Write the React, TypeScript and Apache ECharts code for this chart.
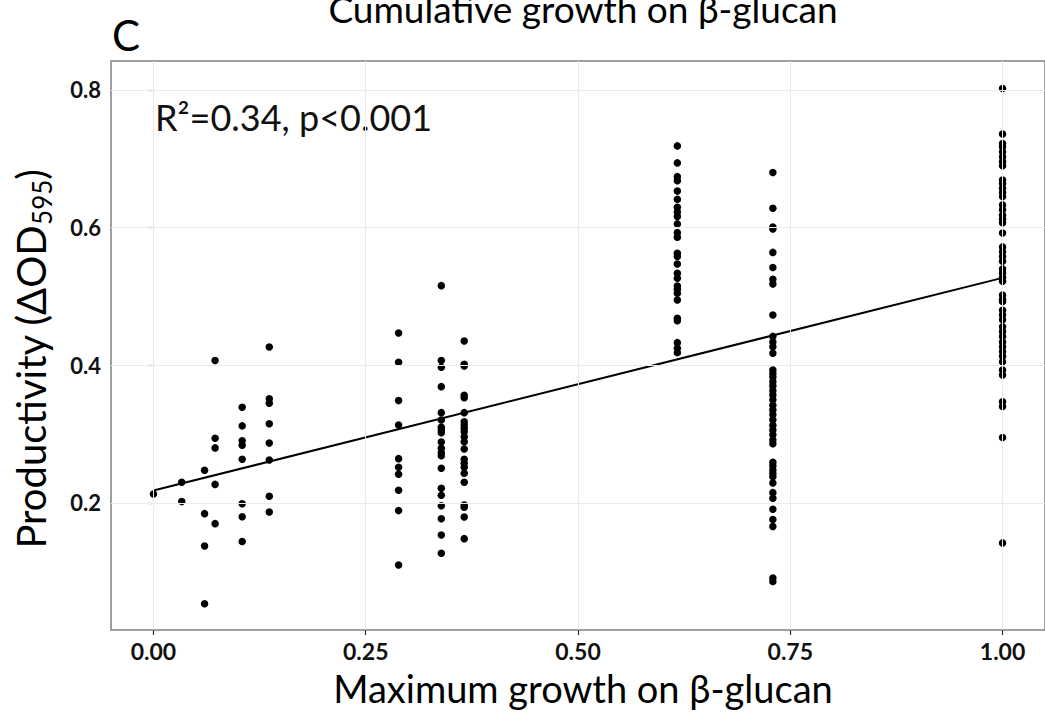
import React, { useEffect, useRef } from "react";
import * as echarts from "echarts";

// x positions of the strain groups (maximum growth on β-glucan)
const xLevels = [0, 0.0333, 0.0602, 0.0726, 0.1045, 0.1364, 0.2887, 0.339, 0.366, 0.617, 0.7295, 1.0];

// productivity values per group
const g0 = [0.213];
const g1 = [0.23, 0.202];
const g2 = [0.2475, 0.1845, 0.1375, 0.0537];
const g3 = [0.407, 0.294, 0.28, 0.227, 0.17];
const g4 = [0.339, 0.312, 0.2905, 0.284, 0.2635, 0.199, 0.18, 0.144];
const g5 = [0.4266, 0.3515, 0.345, 0.315, 0.287, 0.2625, 0.2097, 0.187];
const g6 = [0.447, 0.4044, 0.3487, 0.3133, 0.2644, 0.2519, 0.2417, 0.2185, 0.1889, 0.1099];
const g7 = [0.5157, 0.4068, 0.3971, 0.369, 0.3312, 0.3206, 0.31, 0.306, 0.3021, 0.2886, 0.2794, 0.2731, 0.2687, 0.2504, 0.2214, 0.2112, 0.1961, 0.1772, 0.1535, 0.1269];
const g8 = [0.4353, 0.4015, 0.399, 0.3564, 0.353, 0.3312, 0.3181, 0.3133, 0.3085, 0.3036, 0.2963, 0.2891, 0.2785, 0.2635, 0.2577, 0.2519, 0.2431, 0.23, 0.197, 0.1937, 0.1797, 0.1482];
const g9 = [0.7187, 0.694, 0.674, 0.668, 0.653, 0.641, 0.6296, 0.6228, 0.616, 0.6054, 0.5927, 0.586, 0.5628, 0.5579, 0.5472, 0.5337, 0.5264, 0.5153, 0.5104, 0.5046, 0.4949, 0.4683, 0.4648, 0.4329, 0.4247, 0.4184];
const g10 = [0.68, 0.628, 0.601, 0.598, 0.564, 0.542, 0.525, 0.518, 0.473, 0.442, 0.434, 0.427, 0.4175, 0.393, 0.388, 0.383, 0.376, 0.37, 0.363, 0.357, 0.35, 0.342, 0.335, 0.328, 0.321, 0.313, 0.306, 0.299, 0.2915, 0.286, 0.259, 0.254, 0.248, 0.243, 0.238, 0.229, 0.215, 0.207, 0.191, 0.176, 0.166, 0.091, 0.086];
const g11 = [0.802, 0.736, 0.722, 0.717, 0.71, 0.703, 0.696, 0.69, 0.669, 0.664, 0.657, 0.651, 0.645, 0.633, 0.626, 0.618, 0.612, 0.607, 0.592, 0.572, 0.565, 0.558, 0.551, 0.54, 0.534, 0.528, 0.522, 0.502, 0.496, 0.4925, 0.48, 0.473, 0.466, 0.456, 0.449, 0.442, 0.434, 0.427, 0.42, 0.413, 0.405, 0.393, 0.386, 0.347, 0.34, 0.295, 0.142];

const groups = [g0, g1, g2, g3, g4, g5, g6, g7, g8, g9, g10, g11];

// fitted regression line end points
const fitX = [0, 1];
const fitY = [0.218, 0.527];

const xTicks = [0, 0.25, 0.5, 0.75, 1];
const yTicks = [0.2, 0.4, 0.6, 0.8];

const FONT = "Lato, 'Open Sans', sans-serif";

export default function App() {
  const ref = useRef<HTMLDivElement>(null);

  useEffect(() => {
    if (!ref.current) return;
    const chart = echarts.init(ref.current, undefined, { renderer: "svg" });

    const points: number[][] = [];
    groups.forEach((g, i) => g.forEach((v) => points.push([xLevels[i], v])));
    const fit = fitX.map((x, i) => [x, fitY[i]]);

    const option: any = {
      animation: false,
      backgroundColor: "#ffffff",
      grid: {
        left: 111,
        top: 61,
        right: -10,
        bottom: 89,
        show: true,
        borderColor: "#808080",
        borderWidth: 1.5,
        backgroundColor: "transparent",
      },
      xAxis: {
        type: "value",
        min: -0.05,
        max: 1.05,
        axisLine: { show: false },
        splitLine: { show: false },
        axisTick: {
          show: true,
          customValues: xTicks,
          length: 5,
          lineStyle: { color: "#333", width: 1.2 },
        },
        axisLabel: {
          customValues: xTicks,
          formatter: (v: number) => v.toFixed(2),
          fontFamily: FONT,
          fontWeight: "bold",
          fontSize: 23,
          color: "#111",
          margin: 9,
        },
      },
      yAxis: {
        type: "value",
        min: 0.0155,
        max: 0.842,
        axisLine: { show: false },
        splitLine: { show: false },
        axisTick: {
          show: true,
          customValues: yTicks,
          length: 5,
          lineStyle: { color: "#333", width: 1.2 },
        },
        axisLabel: {
          customValues: yTicks,
          formatter: (v: number) => v.toFixed(1),
          fontFamily: FONT,
          fontWeight: "bold",
          fontSize: 22,
          color: "#111",
          margin: 10,
        },
      },
      series: [
        {
          type: "scatter",
          data: [],
          silent: true,
          z: 1,
          markLine: {
            silent: true,
            symbol: ["none", "none"],
            label: { show: false },
            lineStyle: { color: "#ebebeb", width: 1, type: "solid" },
            data: [
              ...yTicks.map((v) => ({ yAxis: v })),
              ...xTicks.map((v) => ({ xAxis: v })),
            ],
          },
        },
        {
          type: "scatter",
          data: points,
          symbol: "circle",
          symbolSize: 7.5,
          itemStyle: { color: "#000", opacity: 1 },
          z: 3,
        },
        {
          type: "line",
          data: fit,
          showSymbol: false,
          symbol: "none",
          lineStyle: { color: "#000", width: 2 },
          z: 4,
        },
      ],
      graphic: [
        {
          type: "text",
          x: 112,
          y: 35,
          style: {
            text: "C",
            font: `42px ${FONT}`,
            fill: "#000",
            textAlign: "left",
            textVerticalAlign: "middle",
          },
        },
        {
          type: "text",
          x: 583,
          y: 8,
          style: {
            text: "Cumulative growth on β-glucan",
            font: `37px ${FONT}`,
            fill: "#000",
            textAlign: "center",
            textVerticalAlign: "middle",
          },
        },
        {
          type: "text",
          x: 155,
          y: 117,
          style: {
            text: "R²=0.34, p<0.001",
            font: `36px ${FONT}`,
            fill: "#111",
            textAlign: "left",
            textVerticalAlign: "middle",
          },
        },
        {
          type: "text",
          x: 583,
          y: 688,
          style: {
            text: "Maximum growth on β-glucan",
            font: `38px ${FONT}`,
            fill: "#000",
            textAlign: "center",
            textVerticalAlign: "middle",
          },
        },
        {
          type: "text",
          x: 31,
          y: 359,
          rotation: Math.PI / 2,
          style: {
            text: "Productivity (ΔOD{sub|595})",
            fontFamily: FONT,
            fontSize: 40,
            lineHeight: 48,
            fill: "#000",
            textAlign: "center",
            textVerticalAlign: "middle",
            rich: {
              sub: {
                fontFamily: FONT,
                fontSize: 26,
                lineHeight: 26,
                verticalAlign: "bottom",
                fill: "#000",
              },
            },
          },
        },
      ],
    };

    chart.setOption(option);
    return () => chart.dispose();
  }, []);

  return (
    <div
      ref={ref}
      style={{ position: "fixed", left: 0, top: 0, width: 1045, height: 719 }}
    />
  );
}
